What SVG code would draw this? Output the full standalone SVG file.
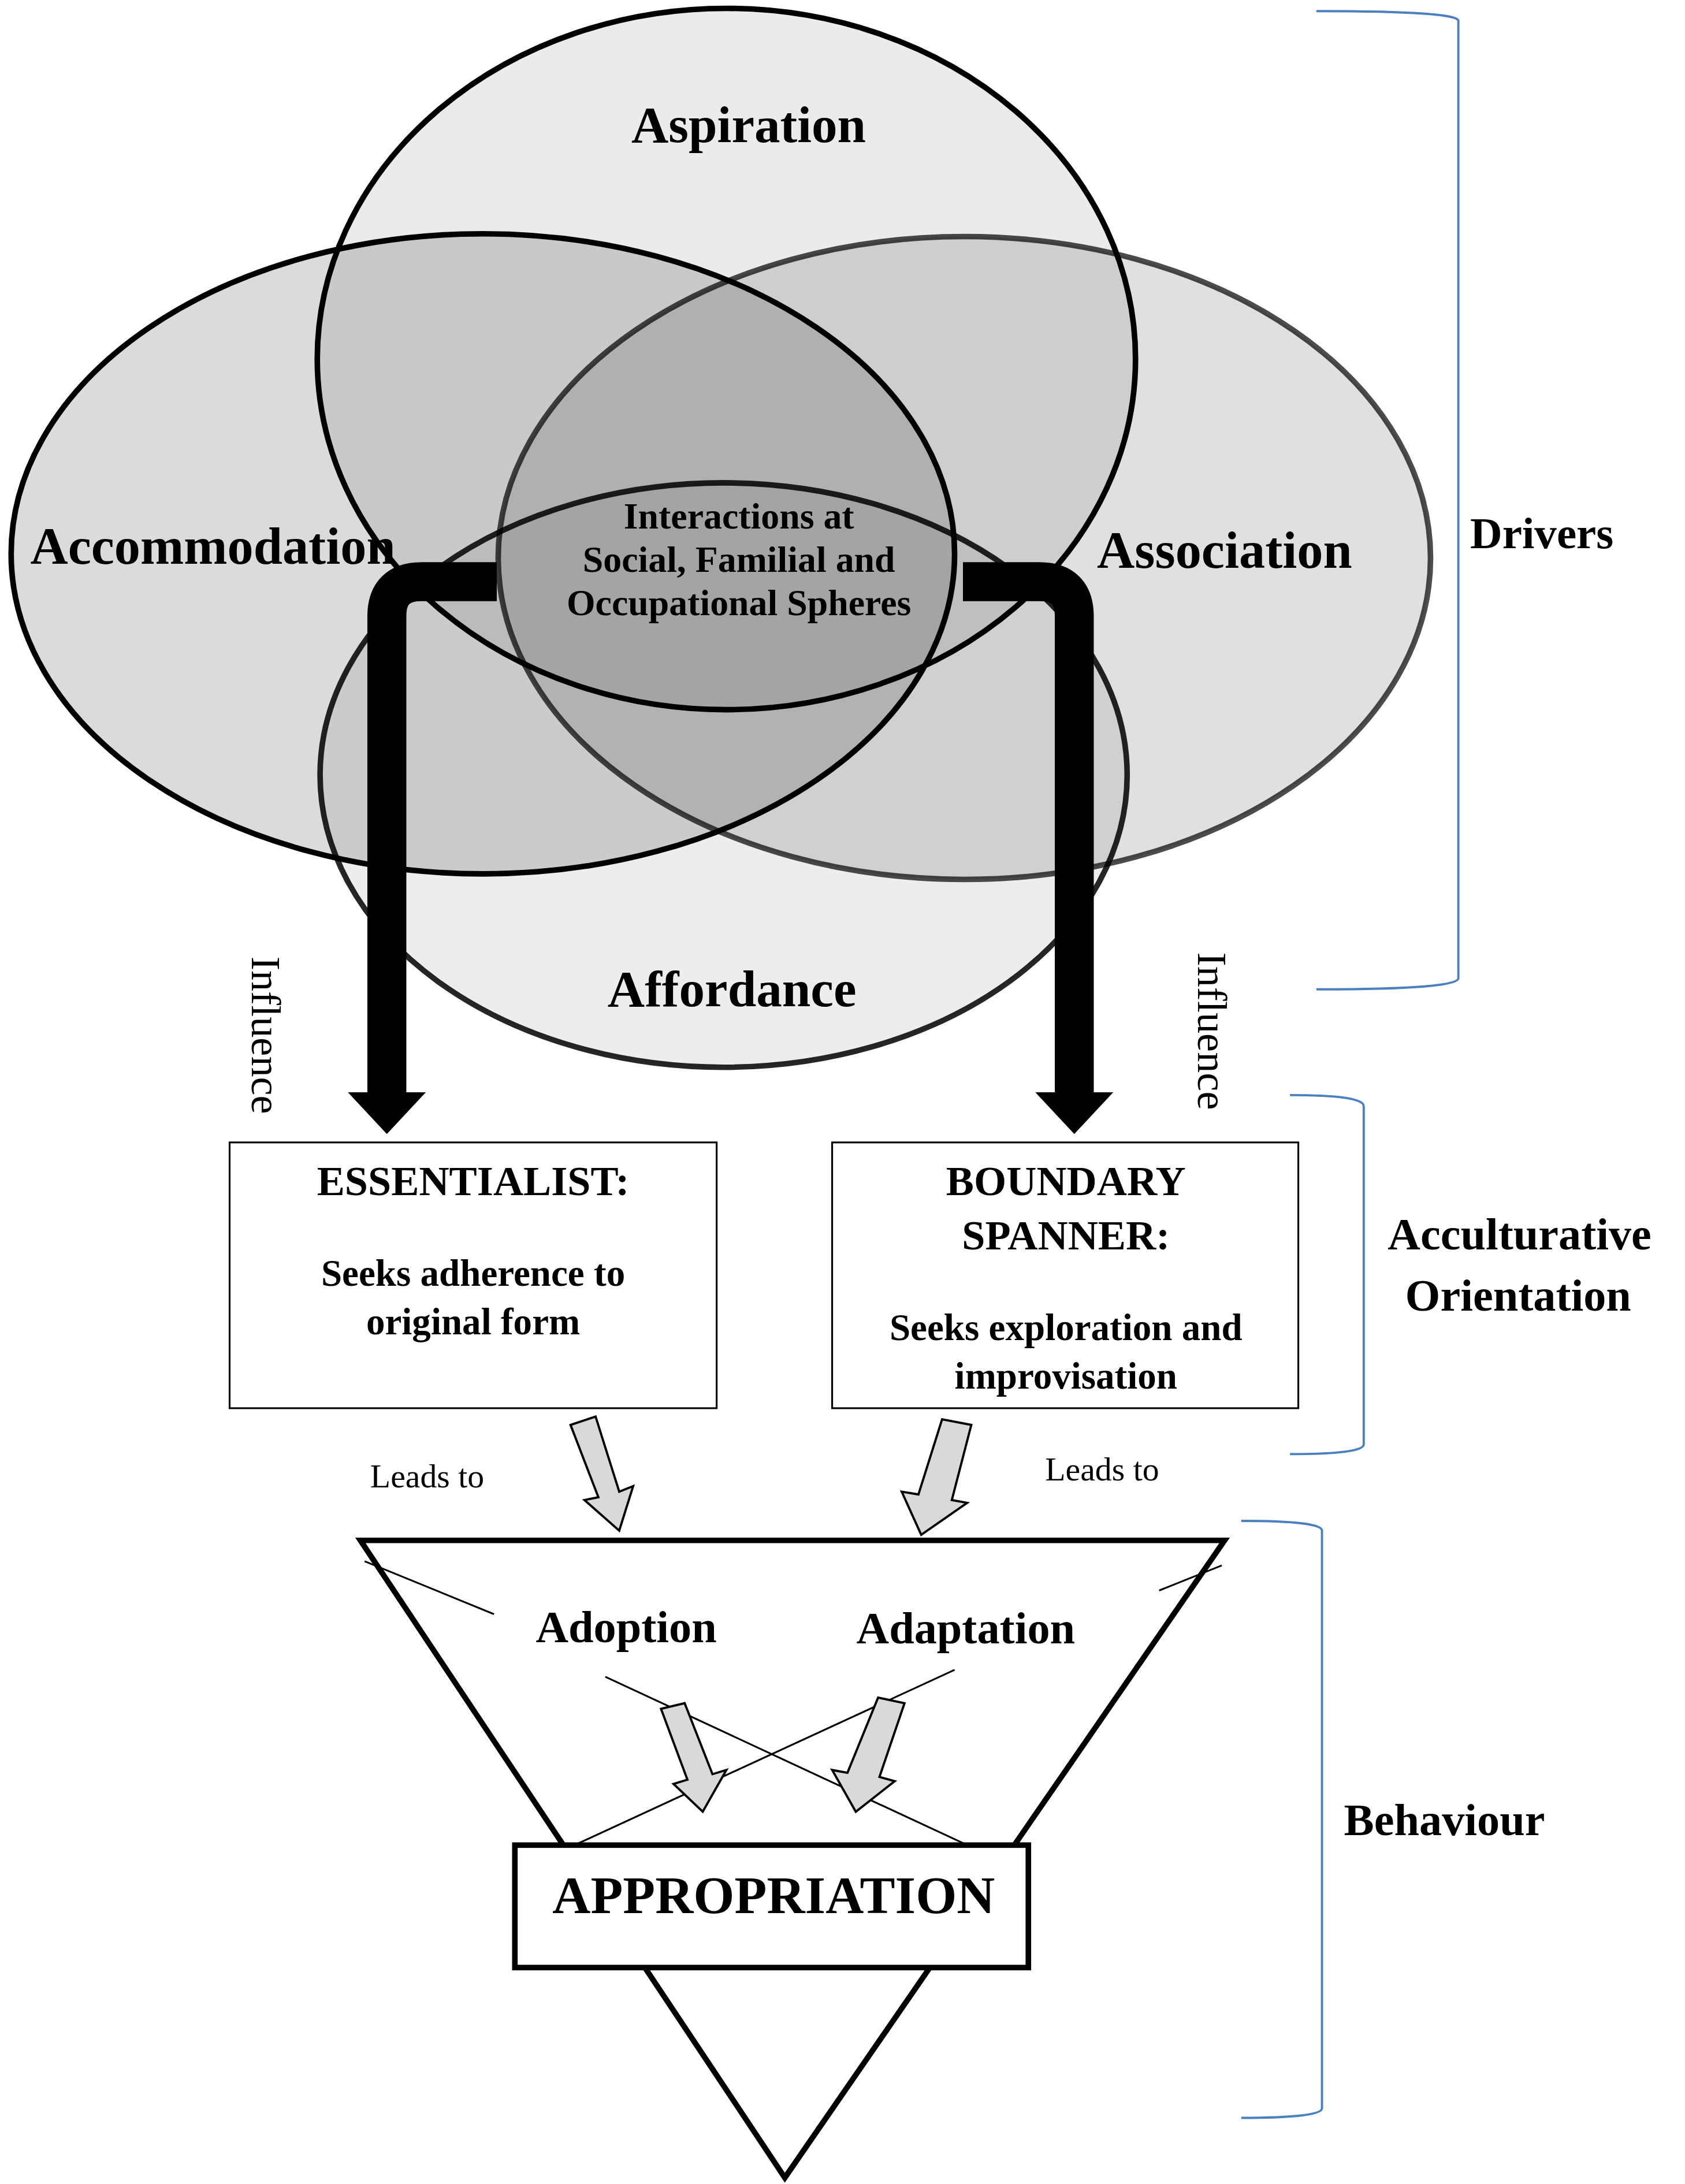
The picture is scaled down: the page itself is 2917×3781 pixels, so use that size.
<svg xmlns="http://www.w3.org/2000/svg" width="2917" height="3781" viewBox="0 0 2917 3781">
<style>
.t{font-family:"Liberation Serif",serif;font-weight:bold;fill:#000;text-anchor:middle}
.n{font-family:"Liberation Serif",serif;fill:#000;text-anchor:middle}
.e{stroke:#000;stroke-width:4}
.br{fill:none;stroke:#4a7fc1;stroke-width:1.6}
.ga{fill:#d9d9d9;stroke:#000;stroke-width:1.6}
</style>
<rect width="2917" height="3781" fill="#fff"/>
<g transform="scale(2.409)">
<g id="aspiration"><ellipse class="e" cx="522" cy="258" rx="294" ry="252" fill="#ebebeb"/></g>
<g id="affordance"><ellipse class="e" cx="520" cy="557" rx="290" ry="210" fill="#000" fill-opacity="0.07" stroke-opacity="0.85"/></g>
<g id="accommodation"><ellipse class="e" cx="347" cy="398" rx="339" ry="230" fill="#000" fill-opacity="0.14"/></g>
<g id="association"><ellipse class="e" cx="693" cy="401" rx="335" ry="231" fill="#000" fill-opacity="0.12" stroke-opacity="0.7"/></g>
<g id="labels">
<text class="t" x="538" y="102" font-size="37">Aspiration</text>
<text class="t" x="153" y="405" font-size="37.5">Accommodation</text>
<text class="t" x="880" y="408" font-size="37.5">Association</text>
<text class="t" x="526" y="723" font-size="37">Affordance</text>
<text class="t" x="531" y="380" font-size="26.5">Interactions at</text>
<text class="t" x="531" y="411" font-size="26.5">Social, Familial and</text>
<text class="t" x="531" y="442" font-size="26.5">Occupational Spheres</text>
</g>
<g id="connectors">
<path d="M357 418 H303 Q278 418 278 443 V788" fill="none" stroke="#000" stroke-width="28"/>
<polygon points="250,785 306,785 278,815"/>
<path d="M692 418 H747 Q772 418 772 443 V788" fill="none" stroke="#000" stroke-width="28"/>
<polygon points="744,785 800,785 772,815"/>
<polygon class="ga" points="410,1024 428,1018 445,1072 455,1068 445,1100 420,1078 430,1076"/>
<polygon class="ga" points="677,1020 698,1024 684,1078 695,1080 662,1103 648,1072 660,1074"/>
</g>
<g id="influence">
<text class="n" font-size="30" transform="translate(181,744) rotate(90)">Influence</text>
<text class="n" font-size="30" transform="translate(861,741) rotate(90)">Influence</text>
</g>
<g id="essentialist">
<rect x="165" y="821" width="350" height="191" fill="#fff" stroke="#000" stroke-width="1.3"/>
<text class="t" x="340" y="859" font-size="30">ESSENTIALIST:</text>
<text class="t" x="340" y="924" font-size="27">Seeks adherence to</text>
<text class="t" x="340" y="959" font-size="27">original form</text>
</g>
<g id="boundary">
<rect x="598" y="821" width="335" height="191" fill="#fff" stroke="#000" stroke-width="1.3"/>
<text class="t" x="766" y="859" font-size="30">BOUNDARY</text>
<text class="t" x="766" y="898" font-size="30">SPANNER:</text>
<text class="t" x="766" y="963" font-size="27">Seeks exploration and</text>
<text class="t" x="766" y="998" font-size="27">improvisation</text>
</g>
<text class="n" x="307" y="1069" font-size="24">Leads to</text>
<text class="n" x="792" y="1064" font-size="24">Leads to</text>
<g id="behaviour">
<polygon points="259,1107 880,1107 564,1565" fill="#fff" stroke="#000" stroke-width="4"/>
<line x1="262" y1="1122" x2="355" y2="1160" stroke="#000" stroke-width="1.3"/>
<line x1="833" y1="1143" x2="878" y2="1125" stroke="#000" stroke-width="1.3"/>
<line x1="435" y1="1205" x2="693" y2="1325" stroke="#000" stroke-width="1.3"/>
<line x1="686" y1="1200" x2="415" y2="1325" stroke="#000" stroke-width="1.3"/>
<polygon class="ga" points="475,1228 492,1224 512,1275 522,1272 505,1302 484,1282 494,1279"/>
<polygon class="ga" points="631,1220 650,1224 632,1277 643,1280 615,1302 598,1272 609,1274"/>
<text class="t" x="450" y="1180" font-size="32.5">Adoption</text>
<text class="t" x="694" y="1181" font-size="32.5">Adaptation</text>
<rect x="370" y="1326" width="369" height="88" fill="#fff" stroke="#000" stroke-width="4"/>
<text class="t" x="556" y="1375" font-size="38">APPROPRIATION</text>
</g>
<g id="brackets">
<path class="br" d="M946 8 Q1048 8 1048 15 V703 Q1048 711 946 711"/>
<path class="br" d="M927 787 Q980 787 980 795 V1038 Q980 1045 927 1045"/>
<path class="br" d="M892 1093 Q950 1093 950 1100 V1515 Q950 1522 892 1522"/>
<text class="t" x="1108" y="394" font-size="32">Drivers</text>
<text class="t" x="1092" y="898" font-size="32.5">Acculturative</text>
<text class="t" x="1091" y="942" font-size="32.5">Orientation</text>
<text class="t" x="1038" y="1319" font-size="32.5">Behaviour</text>
</g>
</g>
</svg>
